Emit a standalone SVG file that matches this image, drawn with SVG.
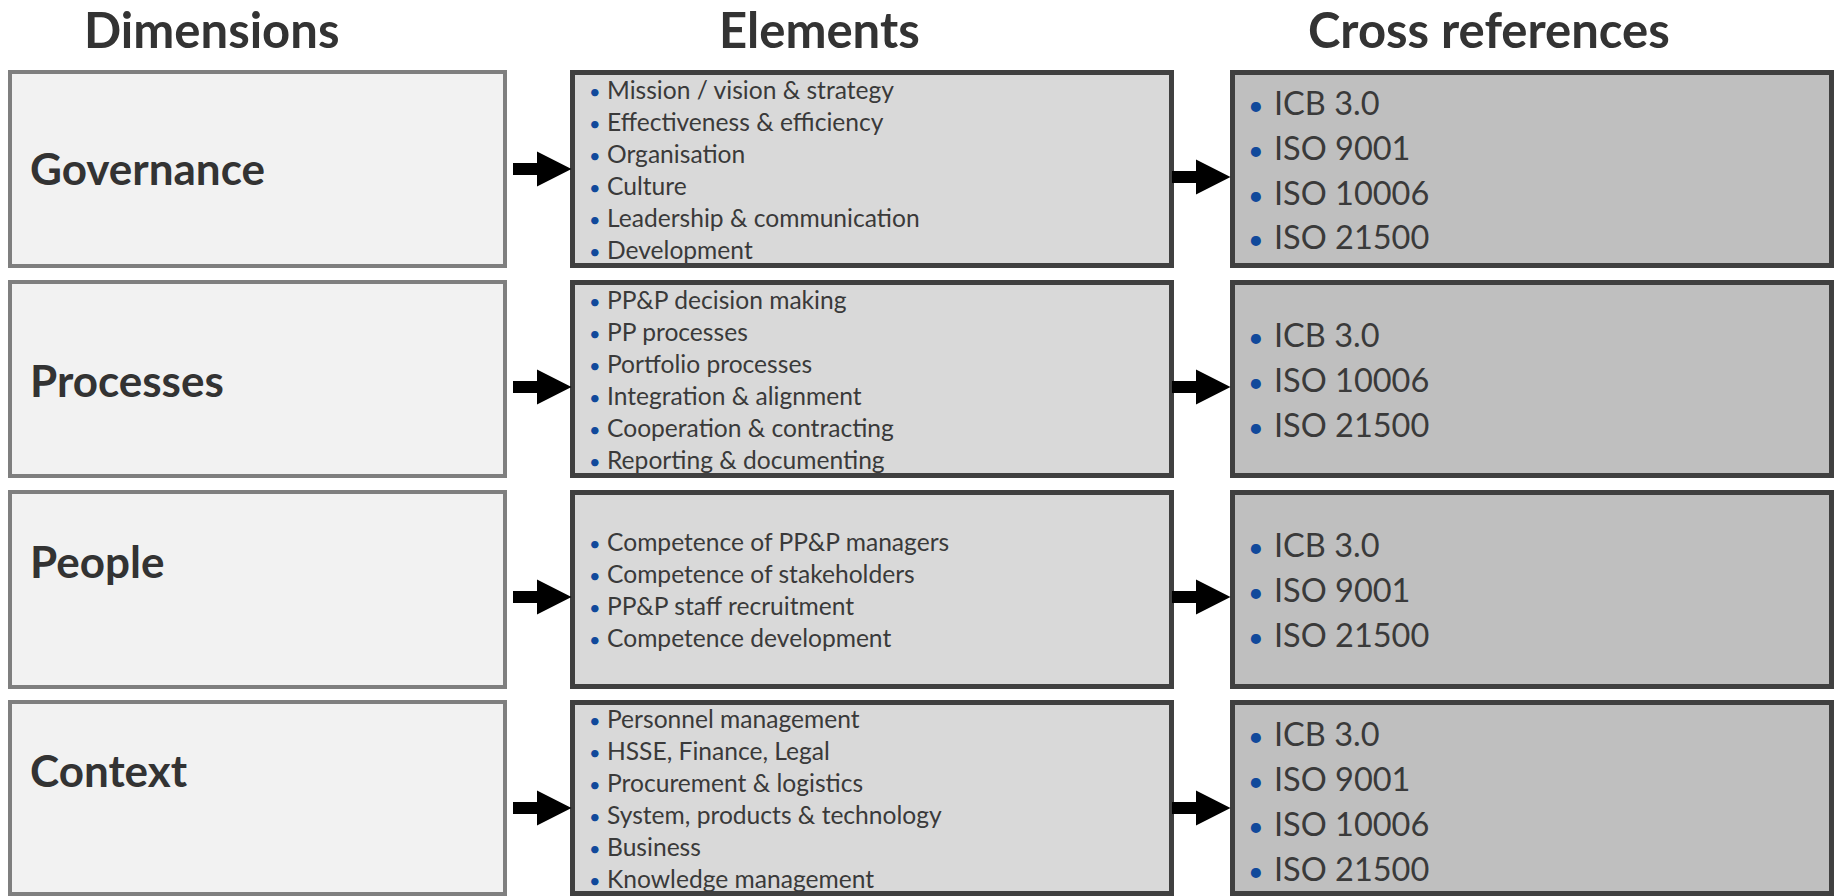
<svg xmlns="http://www.w3.org/2000/svg" xmlns:xlink="http://www.w3.org/1999/xlink" width="1837" height="896" viewBox="0 0 1837 896">
<style>
  .hdr{font-family:Lato,"Open Sans","Liberation Sans",sans-serif;font-weight:700;font-size:49px;fill:#333333}
  .dim{fill:#f2f2f2;stroke:#7f7f7f;stroke-width:4}
  .ele{fill:#d9d9d9;stroke:#404040;stroke-width:5}
  .ref{fill:#bfbfbf;stroke:#404040;stroke-width:5}
  .lbl{font-family:Lato,"Open Sans","Liberation Sans",sans-serif;font-weight:700;font-size:44px;fill:#333333}
  .itm{font-family:Lato,"Open Sans","Liberation Sans",sans-serif;font-size:24.6px;fill:#3a3a3a}
  .big{font-family:Lato,"Open Sans","Liberation Sans",sans-serif;font-size:32.5px;fill:#3a3a3a}
  .itm .b{font-size:20px}
  .big .b{font-size:27px}
  .b{fill:#11499b}
  .arr{fill:#000000}
</style>
<defs>
  <path id="arrow" d="M0,-6 H24 V-17.5 L58.5,0 L24,17.5 V6 H0 Z"/>
</defs>
<rect width="1837" height="896" fill="#ffffff"/>

<g id="headers">
  <text class="hdr" x="84" y="48">Dimensions</text>
  <text class="hdr" x="719" y="48">Elements</text>
  <text class="hdr" x="1308" y="48">Cross references</text>
</g>

<!-- Row 1 -->
<g id="dim-governance">
  <rect class="dim" x="10" y="72" width="495" height="194"/>
  <text class="lbl" x="30" y="185">Governance</text>
</g>
<g id="ele-governance">
  <rect class="ele" x="572.5" y="72.5" width="599" height="193"/>
  <text class="itm" y="98.5"><tspan class="b" x="589">•</tspan><tspan x="607">Mission / vision &amp; strategy</tspan></text>
  <text class="itm" y="130.5"><tspan class="b" x="589">•</tspan><tspan x="607">Effectiveness &amp; efficiency</tspan></text>
  <text class="itm" y="162.5"><tspan class="b" x="589">•</tspan><tspan x="607">Organisation</tspan></text>
  <text class="itm" y="194.5"><tspan class="b" x="589">•</tspan><tspan x="607">Culture</tspan></text>
  <text class="itm" y="226.5"><tspan class="b" x="589">•</tspan><tspan x="607">Leadership &amp; communication</tspan></text>
  <text class="itm" y="258.5"><tspan class="b" x="589">•</tspan><tspan x="607">Development</tspan></text>
</g>
<g id="ref-governance">
  <rect class="ref" x="1232.5" y="72.5" width="599" height="193"/>
  <text class="big" y="115"><tspan class="b" x="1248">•</tspan><tspan x="1274">ICB 3.0</tspan></text>
  <text class="big" y="160"><tspan class="b" x="1248">•</tspan><tspan x="1274">ISO 9001</tspan></text>
  <text class="big" y="205"><tspan class="b" x="1248">•</tspan><tspan x="1274">ISO 10006</tspan></text>
  <text class="big" y="249"><tspan class="b" x="1248">•</tspan><tspan x="1274">ISO 21500</tspan></text>
</g>

<!-- Row 2 -->
<g id="dim-processes">
  <rect class="dim" x="10" y="282" width="495" height="194"/>
  <text class="lbl" x="30" y="397">Processes</text>
</g>
<g id="ele-processes">
  <rect class="ele" x="572.5" y="282.5" width="599" height="193"/>
  <text class="itm" y="308.5"><tspan class="b" x="589">•</tspan><tspan x="607">PP&amp;P decision making</tspan></text>
  <text class="itm" y="340.5"><tspan class="b" x="589">•</tspan><tspan x="607">PP processes</tspan></text>
  <text class="itm" y="372.5"><tspan class="b" x="589">•</tspan><tspan x="607">Portfolio processes</tspan></text>
  <text class="itm" y="404.5"><tspan class="b" x="589">•</tspan><tspan x="607">Integration &amp; alignment</tspan></text>
  <text class="itm" y="436.5"><tspan class="b" x="589">•</tspan><tspan x="607">Cooperation &amp; contracting</tspan></text>
  <text class="itm" y="468.5"><tspan class="b" x="589">•</tspan><tspan x="607">Reporting &amp; documenting</tspan></text>
</g>
<g id="ref-processes">
  <rect class="ref" x="1232.5" y="282.5" width="599" height="193"/>
  <text class="big" y="347"><tspan class="b" x="1248">•</tspan><tspan x="1274">ICB 3.0</tspan></text>
  <text class="big" y="392"><tspan class="b" x="1248">•</tspan><tspan x="1274">ISO 10006</tspan></text>
  <text class="big" y="437"><tspan class="b" x="1248">•</tspan><tspan x="1274">ISO 21500</tspan></text>
</g>

<!-- Row 3 -->
<g id="dim-people">
  <rect class="dim" x="10" y="492" width="495" height="195"/>
  <text class="lbl" x="30" y="578">People</text>
</g>
<g id="ele-people">
  <rect class="ele" x="572.5" y="492.5" width="599" height="194"/>
  <text class="itm" y="551"><tspan class="b" x="589">•</tspan><tspan x="607">Competence of PP&amp;P managers</tspan></text>
  <text class="itm" y="583"><tspan class="b" x="589">•</tspan><tspan x="607">Competence of stakeholders</tspan></text>
  <text class="itm" y="615"><tspan class="b" x="589">•</tspan><tspan x="607">PP&amp;P staff recruitment</tspan></text>
  <text class="itm" y="647"><tspan class="b" x="589">•</tspan><tspan x="607">Competence development</tspan></text>
</g>
<g id="ref-people">
  <rect class="ref" x="1232.5" y="492.5" width="599" height="194"/>
  <text class="big" y="557"><tspan class="b" x="1248">•</tspan><tspan x="1274">ICB 3.0</tspan></text>
  <text class="big" y="602"><tspan class="b" x="1248">•</tspan><tspan x="1274">ISO 9001</tspan></text>
  <text class="big" y="647"><tspan class="b" x="1248">•</tspan><tspan x="1274">ISO 21500</tspan></text>
</g>

<!-- Row 4 -->
<g id="dim-context">
  <rect class="dim" x="10" y="702" width="495" height="192"/>
  <text class="lbl" x="30" y="787">Context</text>
</g>
<g id="ele-context">
  <rect class="ele" x="572.5" y="702.5" width="599" height="191"/>
  <text class="itm" y="728"><tspan class="b" x="589">•</tspan><tspan x="607">Personnel management</tspan></text>
  <text class="itm" y="760"><tspan class="b" x="589">•</tspan><tspan x="607">HSSE, Finance, Legal</tspan></text>
  <text class="itm" y="792"><tspan class="b" x="589">•</tspan><tspan x="607">Procurement &amp; logistics</tspan></text>
  <text class="itm" y="824"><tspan class="b" x="589">•</tspan><tspan x="607">System, products &amp; technology</tspan></text>
  <text class="itm" y="856"><tspan class="b" x="589">•</tspan><tspan x="607">Business</tspan></text>
  <text class="itm" y="887.5"><tspan class="b" x="589">•</tspan><tspan x="607">Knowledge management</tspan></text>
</g>
<g id="ref-context">
  <rect class="ref" x="1232.5" y="702.5" width="599" height="191"/>
  <text class="big" y="746"><tspan class="b" x="1248">•</tspan><tspan x="1274">ICB 3.0</tspan></text>
  <text class="big" y="791"><tspan class="b" x="1248">•</tspan><tspan x="1274">ISO 9001</tspan></text>
  <text class="big" y="836"><tspan class="b" x="1248">•</tspan><tspan x="1274">ISO 10006</tspan></text>
  <text class="big" y="881"><tspan class="b" x="1248">•</tspan><tspan x="1274">ISO 21500</tspan></text>
</g>

<g id="connectors" class="arr">
  <use xlink:href="#arrow" href="#arrow" x="513" y="169"/>
  <use xlink:href="#arrow" href="#arrow" x="1172" y="177"/>
  <use xlink:href="#arrow" href="#arrow" x="513" y="387"/>
  <use xlink:href="#arrow" href="#arrow" x="1172" y="387"/>
  <use xlink:href="#arrow" href="#arrow" x="513" y="597"/>
  <use xlink:href="#arrow" href="#arrow" x="1172" y="597"/>
  <use xlink:href="#arrow" href="#arrow" x="513" y="808"/>
  <use xlink:href="#arrow" href="#arrow" x="1172" y="808"/>
</g>
</svg>
